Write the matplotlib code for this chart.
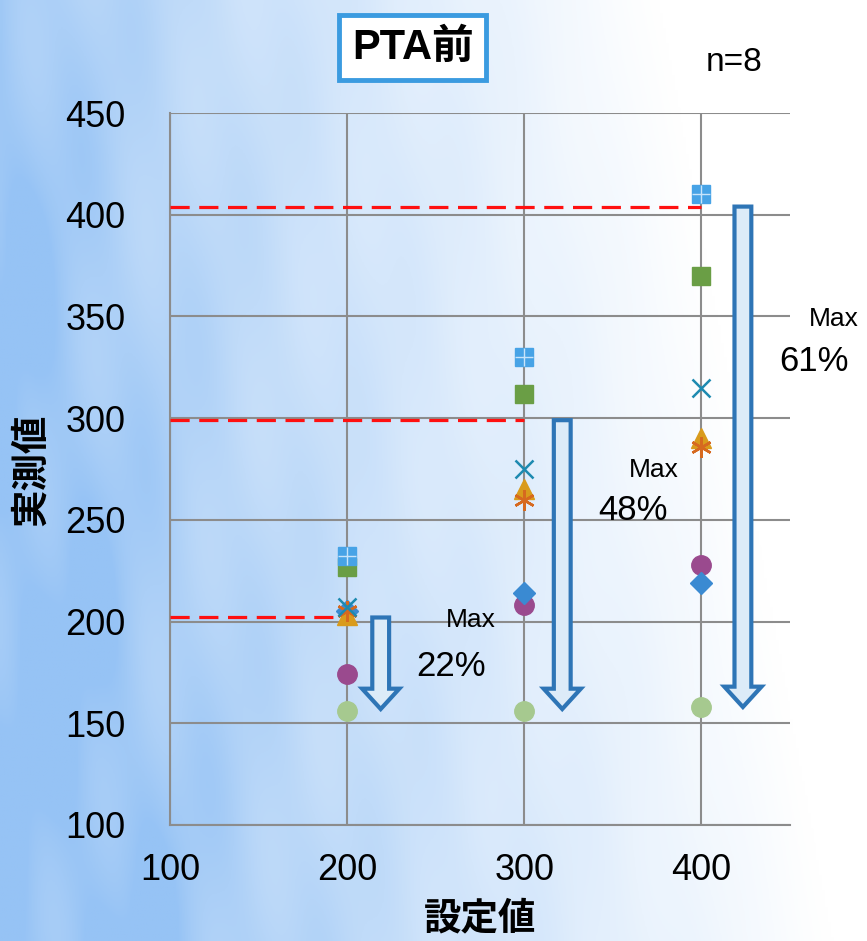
import numpy as np
import matplotlib.pyplot as plt
from matplotlib.patches import FancyArrow

# ==================== DATA ====================
set_values = [200, 300, 400]
sq_blue = [232, 330, 410]
sq_green = [227, 312, 370]
x_teal = [207, 275, 315]
tri_gold = [203, 265, 290]
star_orange = [205, 260, 286]
dia_blue = [205, 214, 219]
circ_purple = [174, 208, 228]
circ_lgreen = [156, 156, 158]

max_levels = [202, 299, 404]
arrow_x = [219, 321.5, 423.5]
arrow_bottom = [157, 157, 158]
max_labels = ["22%", "48%", "61%"]

plt.rcParams['font.family'] = ['Liberation Sans', 'Noto Sans CJK JP', 'DejaVu Sans']

fig = plt.figure(figsize=(8.67, 9.41), dpi=100)

# ==================== BACKGROUND ====================
bg = fig.add_axes([0, 0, 1, 1])
gx, gy = np.meshgrid(np.linspace(0, 1, 300), np.linspace(0, 1, 320))
t = np.clip(1.25 * gx - 0.25 * gy + 0.05, 0, 1)
streak = 0.06 * np.sin((gx * 9 + gy * 4) * np.pi) + 0.04 * np.sin((gx * 23 - gy * 5) * np.pi)
t = np.clip(t + streak * (1 - t), 0, 1) ** 0.8
left = np.array([150, 195, 245]) / 255
right = np.array([1.0, 1.0, 1.0])
img = left[None, None, :] * (1 - t[..., None]) + right[None, None, :] * t[..., None]
bg.imshow(img, extent=[0, 1, 0, 1], aspect='auto', origin='upper')
bg.axis('off')

# ==================== CHART ====================
ax = fig.add_axes([0.196, 0.1233, 0.715, 0.7566])
ax.set_facecolor('none')
ax.set_xlim(100, 450)
ax.set_ylim(100, 450)
ax.set_xticks([100, 200, 300, 400])
ax.set_yticks(range(100, 451, 50))
ax.grid(True, color='#8c8c8c', lw=1.5)
ax.set_axisbelow(True)
for s in ['top', 'right']:
    ax.spines[s].set_visible(False)
for s in ['left', 'bottom']:
    ax.spines[s].set_color('#8c8c8c')
    ax.spines[s].set_linewidth(1.5)
ax.tick_params(length=0, labelsize=26)
ax.tick_params(axis='y', pad=32)
ax.tick_params(axis='x', pad=20)

# red dashed lines at measured max
for xv, yv in zip(set_values, max_levels):
    ax.plot([100, xv], [yv, yv], color='#ff1010', lw=2.3, ls=(0, (6, 3)), zorder=3)

ax.plot(set_values, circ_lgreen, 'o', ls='none', ms=14, color='#a6c98f', zorder=4)
ax.plot(set_values, circ_purple, 'o', ls='none', ms=14, color='#9a4a8e', zorder=4)
ax.plot(set_values, dia_blue, 'D', ls='none', ms=11, color='#3a8ad2', zorder=4)
ax.plot(set_values, tri_gold, '^', ls='none', ms=15, color='#d99b1c', zorder=5)
ax.plot(set_values, star_orange, ls='none', marker=(6, 2, 0), ms=15, mew=1.8, color='#d6691f', zorder=6)
ax.plot(set_values, x_teal, 'x', ls='none', ms=13, mew=1.8, color='#1d8ab0', zorder=6)
ax.plot(set_values, sq_green, 's', ls='none', ms=13, color='#6a9e45', zorder=4)
ax.plot(set_values, sq_blue, 's', ls='none', ms=13, color='#47a3e6', zorder=5)
ax.plot(set_values, sq_blue, '+', ls='none', ms=13, mew=1, color='#c8e4fa', zorder=6)

# hollow block arrows
for xa, ytop, ybot in zip(arrow_x, max_levels, arrow_bottom):
    arr = FancyArrow(xa, ytop, 0, ybot - ytop, width=9.5, head_width=21,
                     head_length=10, length_includes_head=True,
                     facecolor='#dcebf8', edgecolor='#2e75b6', lw=3, zorder=7)
    ax.add_patch(arr)

text_pos = [(270, 200.8, 259, 178), (373, 274.5, 361.6, 254.8), (475, 348.7, 463.6, 327.6)]
for (mx, my, px, py), lab in zip(text_pos, max_labels):
    ax.text(mx, my, "Max", fontsize=19, ha='center', va='center', clip_on=False, zorder=8)
    ax.text(px, py, lab, fontsize=25, ha='center', va='center', clip_on=False, zorder=8)

ax.set_ylabel("実測値", fontsize=27, fontweight='bold')
ax.set_xlabel("設定値", fontsize=27, fontweight='bold')
ax.yaxis.set_label_coords(-0.194, 0.4986)
ax.xaxis.set_label_coords(0.5, -0.108)

fig.text(0.476, 0.949, "PTA前", fontsize=30, fontweight='bold', ha='center', va='center',
         bbox=dict(boxstyle='square,pad=0.3', facecolor='white', edgecolor='#3b9be0', lw=3.5))
fig.text(0.847, 0.934, "n=8", fontsize=24, ha='center', va='center')

fig.savefig("out.png", dpi=100)
